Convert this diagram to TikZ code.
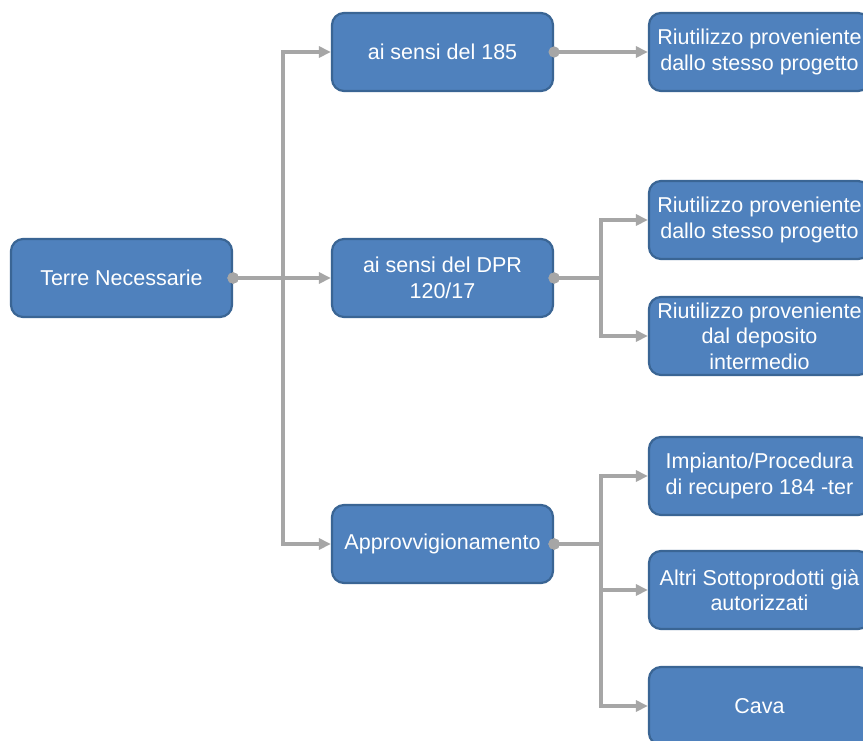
\documentclass[tikz,border=0pt]{standalone}
\usepackage{fontspec}
\setmainfont{Liberation Sans}
\usetikzlibrary{arrows.meta}
\definecolor{boxfill}{HTML}{4F81BD}
\definecolor{boxline}{HTML}{3A6594}
\definecolor{conngray}{HTML}{A6A6A6}
\tikzset{
  box/.style={draw=boxline, line width=2.2pt, fill=boxfill, rounded corners=12pt,
    minimum width=221pt, minimum height=78pt, inner sep=0pt, text=white,
    align=center, font=\fontsize{21.5}{25.5}\selectfont},
  conn/.style={draw=conngray, line width=3.5pt, shorten <=-5.5pt,
    {Circle[length=11pt,width=11pt]}-{Triangle[length=12pt,width=11pt]}},
}
\begin{document}
\begin{tikzpicture}[x=1pt,y=-1pt]
\useasboundingbox (0,0) rectangle (863,740);
\fill[white] (0,0) rectangle (863,740);
\node[box] (terre) at (121.5,278) {Terre Necessarie};
\node[box] (a185) at (442.5,52) {ai sensi del 185};
\node[box] (dpr) at (442.5,278) {ai sensi del DPR\\120/17};
\node[box] (appr) at (442.5,544) {Approvvigionamento};
\node[box] (r1) at (759.5,52) {Riutilizzo proveniente\\dallo stesso progetto};
\node[box] (r2) at (759.5,220) {Riutilizzo proveniente\\dallo stesso progetto};
\node[box] (r3) at (759.5,336) {Riutilizzo proveniente\\dal deposito\\intermedio};
\node[box] (r4) at (759.5,476) {Impianto/Procedura\\di recupero 184 -ter};
\node[box] (r5) at (759.5,590) {Altri Sottoprodotti già\\autorizzati};
\node[box] (r6) at (759.5,706) {Cava};
\coordinate (j1) at (283,278);
\coordinate (j2) at (601,278);
\coordinate (j3) at (601,544);
\draw[conn] (terre.east) -- (j1) |- (a185.west);
\draw[conn] (terre.east) -- (dpr.west);
\draw[conn] (terre.east) -- (j1) |- (appr.west);
\draw[conn] (a185.east) -- (r1.west);
\draw[conn] (dpr.east) -- (j2) |- (r2.west);
\draw[conn] (dpr.east) -- (j2) |- (r3.west);
\draw[conn] (appr.east) -- (j3) |- (r4.west);
\draw[conn] (appr.east) -- (j3) |- (r5.west);
\draw[conn] (appr.east) -- (j3) |- (r6.west);
\end{tikzpicture}
\end{document}
